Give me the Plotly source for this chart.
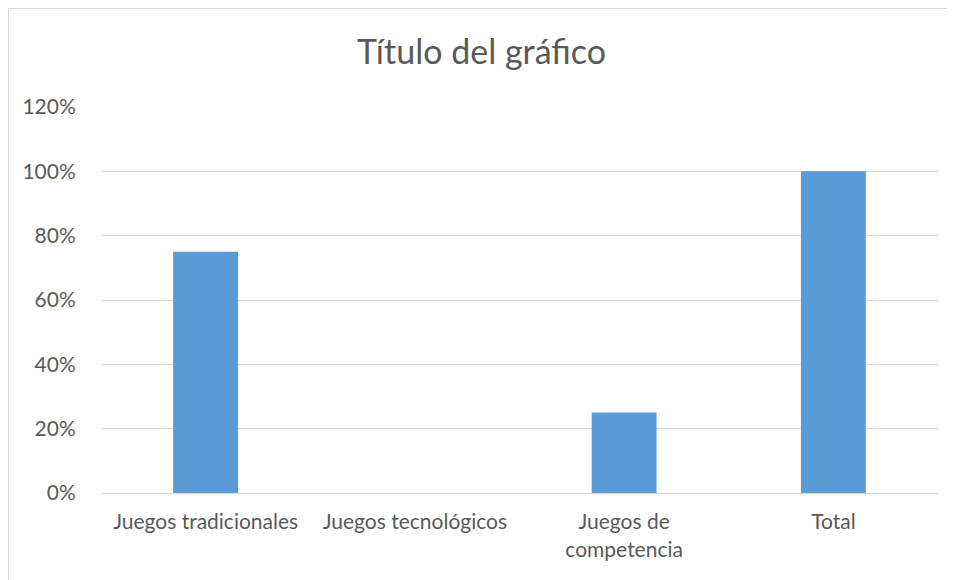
import plotly.graph_objects as go

categorias = ["Juegos tradicionales", "Juegos tecnológicos", "Juegos de<br>competencia", "Total"]
valores = [0.75, 0.0, 0.25, 1.0]
ticks_y = [0, 0.2, 0.4, 0.6, 0.8, 1.0, 1.2]
ticks_texto = ["0%", "20%", "40%", "60%", "80%", "100%", "120%"]

# la página deja 8 px de margen en el body
W, H = 947, 572
ml, mr, mt, mb = 93, 17, 99, 87
pw, ph = W - ml - mr, H - mt - mb


def px_x(p):
    return (p - ml) / pw


def px_y(p):
    return (H - mb - p) / ph


fig = go.Figure()

fig.add_trace(go.Bar(
    x=categorias,
    y=valores,
    marker=dict(color='#5B9BD5', line_width=0),
))

fig.update_layout(
    width=W,
    height=H,
    title=dict(
        text="Título del gráfico",
        x=0.5,
        xanchor='center',
        y=1 - 44 / H,
        yanchor='middle',
        font=dict(family='Lato', size=34, color='#595959'),
    ),
    xaxis=dict(
        showgrid=False,
        showline=False,
        tickfont=dict(family='Lato', size=21, color='#595959'),
        ticks='outside',
        ticklen=10,
        tickcolor='rgba(0,0,0,0)',
    ),
    yaxis=dict(
        range=[0, 1.2],
        tickvals=ticks_y,
        ticktext=ticks_texto,
        showgrid=True,
        gridcolor='#D9D9D9',
        gridwidth=1,
        zeroline=True,
        zerolinecolor='#D9D9D9',
        zerolinewidth=1,
        showline=False,
        tickfont=dict(family='Lato', size=21, color='#595959'),
        ticks='outside',
        ticklen=20,
        tickcolor='rgba(0,0,0,0)',
    ),
    bargap=0.69,
    margin=dict(l=ml, r=mr, b=mb, t=mt),
    paper_bgcolor='white',
    plot_bgcolor='white',
    showlegend=False,
    shapes=[
        dict(type='line', xref='paper', yref='paper',
             x0=px_x(0.5), x1=px_x(0.5), y0=px_y(0), y1=px_y(H),
             line=dict(color='#D9D9D9', width=1)),
        dict(type='line', xref='paper', yref='paper',
             x0=px_x(0), x1=px_x(W), y0=px_y(0.5), y1=px_y(0.5),
             line=dict(color='#D9D9D9', width=1)),
    ],
)

fig.write_html("out.html")
